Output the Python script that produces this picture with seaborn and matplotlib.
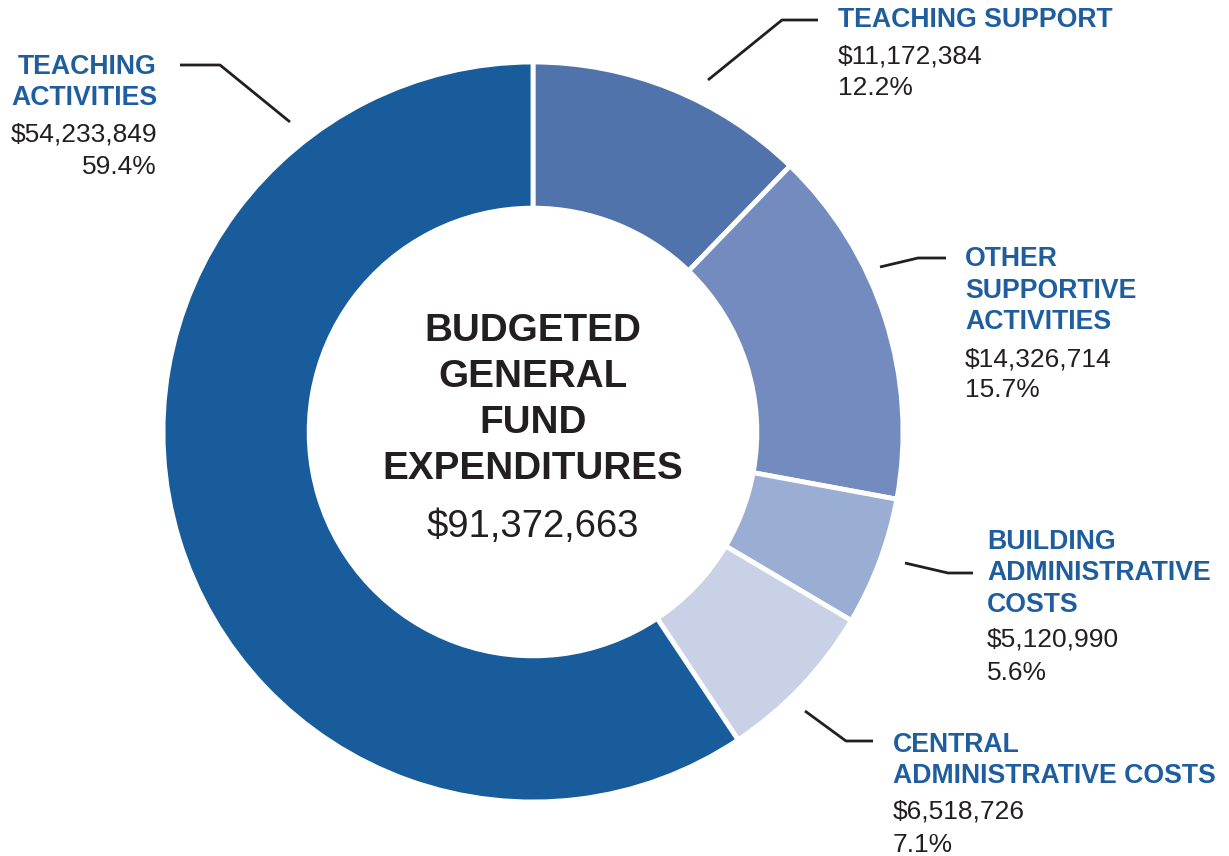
import matplotlib
matplotlib.use("Agg")
import matplotlib.pyplot as plt
import seaborn as sns

# ---- data ----
categories = ["TEACHING SUPPORT", "OTHER SUPPORTIVE ACTIVITIES", "BUILDING ADMINISTRATIVE COSTS",
              "CENTRAL ADMINISTRATIVE COSTS", "TEACHING ACTIVITIES"]
title_lines = [["TEACHING SUPPORT"], ["OTHER", "SUPPORTIVE", "ACTIVITIES"],
               ["BUILDING", "ADMINISTRATIVE", "COSTS"], ["CENTRAL", "ADMINISTRATIVE COSTS"],
               ["TEACHING", "ACTIVITIES"]]
amounts = [11172384, 14326714, 5120990, 6518726, 54233849]
amount_labels = ["$11,172,384", "$14,326,714", "$5,120,990", "$6,518,726", "$54,233,849"]
pct_labels = ["12.2%", "15.7%", "5.6%", "7.1%", "59.4%"]
total_label = "$91,372,663"
center_title = ["BUDGETED", "GENERAL", "FUND", "EXPENDITURES"]

colors = ["#5073ab", "#738bbe", "#9aadd2", "#c8d1e6", "#195c9c"]
title_color = "#1f5e9e"
text_color = "#231f20"

sns.set_theme(style="white")
plt.rcParams['font.family'] = ['Liberation Sans', 'DejaVu Sans']

W, H = 1229, 856
fig = plt.figure(figsize=(W / 100, H / 100), dpi=100)
ax = fig.add_axes([0, 0, 1, 1])
ax.set_xlim(0, W)
ax.set_ylim(0, H)
ax.axis("off")

def Y(y):
    return H - y

cx, cy, R = 533, Y(432), 370
ax.pie(amounts, colors=colors, startangle=90, counterclock=False,
       center=(cx, cy), radius=R,
       wedgeprops=dict(width=R * 0.395, edgecolor="white", linewidth=3.5))
ax.set_xlim(0, W)
ax.set_ylim(0, H)
ax.set_aspect("auto")

# layout of labels (pixel positions)
label_layout = [
    dict(x=838, ha="left", title_y=[20], val_y=56, pct_y=88,
         line=[(708, 80), (782, 20), (818, 20)]),
    dict(x=965, ha="left", title_y=[259, 291, 322], val_y=359, pct_y=390,
         line=[(880, 267), (918, 258), (946, 258)]),
    dict(x=987, ha="left", title_y=[542, 573, 605], val_y=640, pct_y=673,
         line=[(905, 563), (948, 573), (973, 573)]),
    dict(x=893, ha="left", title_y=[745, 776], val_y=811, pct_y=845,
         line=[(805, 711), (846, 741), (873, 741)]),
    dict(x=157, ha="right", title_y=[67, 98], val_y=134, pct_y=167,
         line=[(290, 122), (220, 65), (180, 65)]),
]

for i, lay in enumerate(label_layout):
    for t, ty in zip(title_lines[i], lay["title_y"]):
        ax.text(lay["x"], Y(ty), t, ha=lay["ha"], va="center", fontsize=19.2,
                fontweight="bold", color=title_color)
    ax.text(lay["x"], Y(lay["val_y"]), amount_labels[i], ha=lay["ha"], va="center",
            fontsize=19, color=text_color)
    ax.text(lay["x"], Y(lay["pct_y"]), pct_labels[i], ha=lay["ha"], va="center",
            fontsize=19, color=text_color)
    xs = [p[0] for p in lay["line"]]
    ys = [Y(p[1]) for p in lay["line"]]
    ax.plot(xs, ys, color="#231f20", linewidth=2, solid_capstyle="butt")

for t, ty in zip(center_title, [331, 377, 423, 469]):
    ax.text(cx, Y(ty), t, ha="center", va="center", fontsize=27.8, fontweight="bold",
            color=text_color)
ax.text(cx, Y(527), total_label, ha="center", va="center", fontsize=27.5, color=text_color)

fig.savefig("out.png", dpi=100, facecolor="white")
